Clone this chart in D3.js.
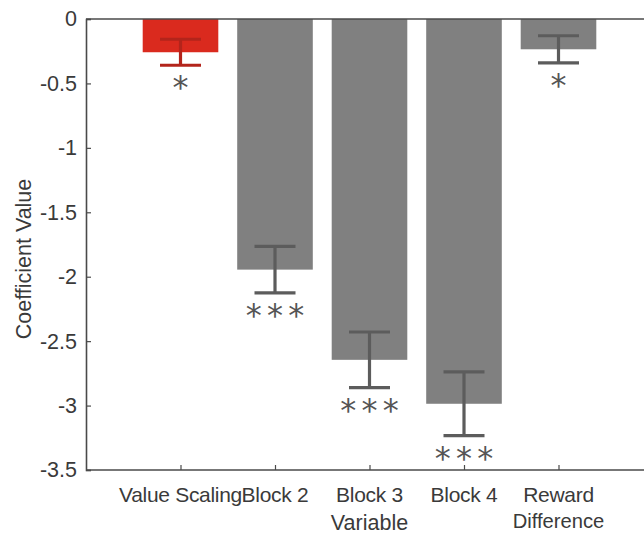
<!DOCTYPE html>
<html>
<head>
<meta charset="utf-8">
<script src="https://cdn.jsdelivr.net/npm/d3@7"></script>
<style>
  html, body { margin: 0; padding: 0; background: #fff; }
  svg { display: block; font-family: "Liberation Sans", Arial, Helvetica, sans-serif; }
</style>
</head>
<body>
<svg id="chart" width="644" height="535"></svg>
<script>
// Regression coefficients per predictor, with standard-error half-widths
const categories = ["Value Scaling", "Block 2", "Block 3", "Block 4", "Reward Difference"];
const coefficients = [-0.258, -1.945, -2.645, -2.986, -0.235];
const errors = [0.101, 0.18, 0.216, 0.247, 0.105];
const stars = ["*", "***", "***", "***", "*"];
const yTicks = [0, -0.5, -1, -1.5, -2, -2.5, -3, -3.5];

const svg = d3.select("#chart");
const plotLeft = 86, plotTop = 19, plotBottom = 470;
const step = 94.5;

// categories sit at 1..5 on a 0..6 domain, so the frame runs past the right edge
const x = d3.scaleLinear().domain([0, 6]).range([plotLeft, plotLeft + 6 * step]);
const y = d3.scaleLinear().domain([-3.5, 0]).range([plotBottom, plotTop]);
const barW = 0.8 * step;

const axisColor = "#4a4a4a";
const textColor = "#3a3a3a";
const labelSize = 21.5;

// bars
svg.append("g").selectAll("rect")
  .data(coefficients)
  .join("rect")
  .attr("x", (d, i) => x(i + 1) - barW / 2)
  .attr("y", y(0))
  .attr("width", barW)
  .attr("height", d => y(d) - y(0))
  .attr("fill", (d, i) => i === 0 ? "#da2a1e" : "#808080");

// error bars
const eb = svg.append("g").selectAll("g")
  .data(coefficients)
  .join("g")
  .attr("stroke", (d, i) => i === 0 ? "#b3241b" : "#5c5c5c")
  .attr("stroke-width", 3.2)
  .attr("fill", "none");
const capW = 41;
eb.append("line")
  .attr("x1", (d, i) => x(i + 1)).attr("x2", (d, i) => x(i + 1))
  .attr("y1", (d, i) => y(d + errors[i])).attr("y2", (d, i) => y(d - errors[i]));
eb.append("line")
  .attr("x1", (d, i) => x(i + 1) - capW / 2).attr("x2", (d, i) => x(i + 1) + capW / 2)
  .attr("y1", (d, i) => y(d + errors[i])).attr("y2", (d, i) => y(d + errors[i]));
eb.append("line")
  .attr("x1", (d, i) => x(i + 1) - capW / 2).attr("x2", (d, i) => x(i + 1) + capW / 2)
  .attr("y1", (d, i) => y(d - errors[i])).attr("y2", (d, i) => y(d - errors[i]));

// significance stars under each lower cap
const starSpacing = 5.3;
svg.append("g").selectAll("text")
  .data(stars)
  .join("text")
  .attr("x", (d, i) => x(i + 1) + (d.length > 1 ? starSpacing / 2 : 0))
  .attr("y", (d, i) => y(coefficients[i] - errors[i]) + 33)
  .attr("text-anchor", "middle")
  .attr("font-family", "DejaVu Sans, sans-serif")
  .attr("font-size", 32)
  .attr("letter-spacing", d => d.length > 1 ? starSpacing : 0)
  .attr("fill", "#555")
  .text(d => d);

// frame: top and bottom edges, left axis
const frame = svg.append("g").attr("stroke", axisColor).attr("stroke-width", 1.6);
frame.append("line").attr("x1", plotLeft).attr("x2", 644).attr("y1", plotTop).attr("y2", plotTop);
frame.append("line").attr("x1", plotLeft).attr("x2", 644).attr("y1", plotBottom).attr("y2", plotBottom);

// y axis with inward ticks
const yAxis = svg.append("g")
  .attr("transform", `translate(${plotLeft},0)`)
  .call(d3.axisLeft(y).tickValues(yTicks).tickSize(-5).tickPadding(9)
    .tickFormat(d => d3.format("")(d).replace("−", "-")));
yAxis.select(".domain").attr("stroke", axisColor).attr("stroke-width", 1.6);
yAxis.selectAll(".tick line").attr("stroke", axisColor).attr("stroke-width", 1.2);
yAxis.selectAll(".tick text")
  .attr("font-size", labelSize).attr("fill", textColor)
  .attr("font-family", "Liberation Sans, Arial, sans-serif");

// x axis: inward ticks at each category, labels placed beneath
const xAxis = svg.append("g")
  .attr("transform", `translate(0,${plotBottom})`)
  .call(d3.axisBottom(x).tickValues([1, 2, 3, 4, 5]).tickSize(-5).tickFormat(""));
xAxis.select(".domain").remove();
xAxis.selectAll(".tick line").attr("stroke", axisColor).attr("stroke-width", 1.2);

const xl = svg.append("g").selectAll("text")
  .data(categories)
  .join("text")
  .attr("x", (d, i) => x(i + 1))
  .attr("y", 502)
  .attr("text-anchor", "middle")
  .attr("font-size", 20.5)
  .attr("letter-spacing", -0.3)
  .attr("fill", textColor);
xl.each(function (d) {
  const parts = d === "Reward Difference" ? ["Reward", "Difference"] : [d];
  const t = d3.select(this);
  parts.forEach((p, k) => {
    t.append("tspan")
      .attr("x", t.attr("x"))
      .attr("dy", k === 0 ? 0 : 26)
      .attr("font-size", k === 0 ? 21 : 20.2)
      .attr("letter-spacing", k === 0 ? -0.3 : 0)
      .text(p);
  });
});

// axis titles
svg.append("text")
  .attr("x", (plotLeft + plotLeft + 6 * step) / 2)
  .attr("y", 530)
  .attr("text-anchor", "middle")
  .attr("font-size", labelSize)
  .attr("fill", textColor)
  .text("Variable");

svg.append("text")
  .attr("transform", "translate(31,259) rotate(-90)")
  .attr("text-anchor", "middle")
  .attr("font-size", labelSize)
  .attr("fill", textColor)
  .text("Coefficient Value");
</script>
</body>
</html>
